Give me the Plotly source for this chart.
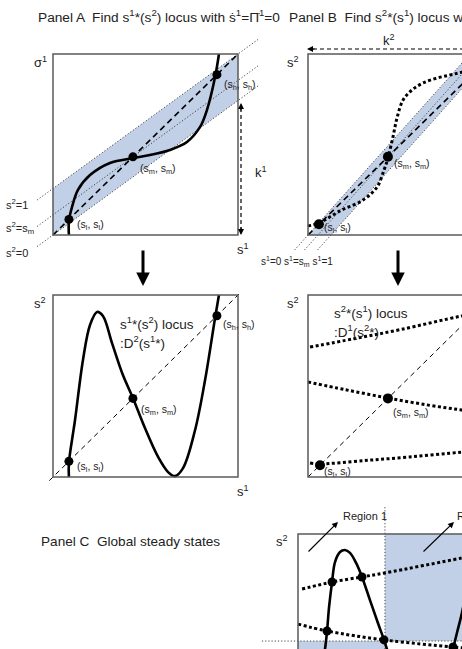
import plotly.graph_objects as go

# ---------------- data (unit coordinates inside each panel box) ----------------
# Panel A : s1 (horizontal) vs sigma1 (vertical)
A_levels = [0.086, 0.432, 0.886]            # s_l, s_m, s_h
A_band_a = 0.743                              # sigma1 = a*s1 + (1-a)*s2
A_band_s2 = [0.0, 0.432, 1.0]                 # s2 = 0, s_m, 1
A_curve_s1 = [0.086, 0.086, 0.103, 0.135, 0.200, 0.308, 0.432, 0.524, 0.632, 0.724, 0.795, 0.832, 0.876, 0.897]
A_curve_sg = [0.000, 0.077, 0.155, 0.249, 0.331, 0.398, 0.425, 0.442, 0.470, 0.514, 0.597, 0.690, 0.873, 1.000]

# Panel B : sigma2 (horizontal) vs s2 (vertical)
B_levels = [0.059, 0.432]
B_band_b = 0.876                              # u = b*v + (1-b)*s1
B_band_s1 = [0.0, 0.432, 1.0]
B_curve_u = [0.000, 0.059, 0.173, 0.297, 0.373, 0.411, 0.432, 0.459, 0.481, 0.514, 0.562, 0.622, 0.697, 0.768, 0.832, 0.95]
B_curve_v = [0.050, 0.066, 0.133, 0.193, 0.265, 0.359, 0.425, 0.541, 0.646, 0.746, 0.801, 0.840, 0.867, 0.884, 0.900, 0.93]

# Panel A2 : s1*(s2) locus
A2_curve_x = [0.086, 0.086, 0.119, 0.162, 0.200, 0.238, 0.270, 0.319, 0.378, 0.432, 0.497, 0.568, 0.622, 0.659, 0.703, 0.768, 0.822, 0.876, 0.897]
A2_curve_y = [0.000, 0.077, 0.313, 0.643, 0.835, 0.907, 0.885, 0.736, 0.560, 0.434, 0.269, 0.110, 0.027, 0.005, 0.049, 0.258, 0.533, 0.874, 1.000]
A2_levels = [0.086, 0.432, 0.886]

# Panel B2 : s2*(s1) locus (three branches)
B2_top_x = [0.011, 0.250, 0.500, 0.832, 1.0]
B2_top_y = [0.714, 0.760, 0.810, 0.885, 0.915]
B2_mid_x = [0.000, 0.200, 0.432, 0.650, 0.832, 1.0]
B2_mid_y = [0.522, 0.480, 0.434, 0.395, 0.368, 0.345]
B2_bot_x = [0.011, 0.065, 0.300, 0.550, 0.832, 1.0]
B2_bot_y = [0.077, 0.072, 0.090, 0.110, 0.137, 0.150]
B2_levels = [0.065, 0.432]

# Panel C : global steady states
C_curve1_x = [0.124, 0.146, 0.157, 0.168, 0.184, 0.200, 0.227, 0.254, 0.281, 0.314, 0.346, 0.389, 0.432, 0.465, 0.486, 0.524]
C_curve1_y = [0.250, 0.368, 0.467, 0.599, 0.736, 0.846, 0.901, 0.912, 0.896, 0.841, 0.764, 0.637, 0.511, 0.418, 0.352, 0.253]
C_curve2_x = [0.811, 0.838, 0.859, 0.886, 0.930]
C_curve2_y = [0.253, 0.368, 0.456, 0.566, 0.800]
C_top_x = [0.022, 0.184, 0.346, 0.470, 0.886, 1.0]
C_top_y = [0.698, 0.736, 0.764, 0.786, 0.868, 0.890]
C_mid_x = [0.000, 0.157, 0.465, 0.838, 1.0]
C_mid_y = [0.505, 0.467, 0.418, 0.379, 0.365]
C_pts_x = [0.184, 0.346, 0.157, 0.465, 0.838]
C_pts_y = [0.736, 0.764, 0.467, 0.418, 0.379]
C_split_u, C_split_v = 0.47, 0.412

# ---------------- layout geometry (pixels) ----------------
W, H = 462, 649
PANELS = {  # left, bottom, width, height
    "A": (53, 235, 185, 181),
    "B": (308, 235, 185, 181),
    "A2": (53, 477, 185, 182),
    "B2": (308, 477, 185, 182),
    "C": (298, 716, 185, 182),
}
BLUE = "rgb(193,208,230)"
BOX = "#5a5a5a"
FONT = "Liberation Sans, Arial, sans-serif"
TXT = "#222222"


def P(p, us, vs):
    x0, yb, w, h = PANELS[p]
    return [x0 + u * w for u in us], [yb - v * h for v in vs]


fig = go.Figure()


def line(p, us, vs, width=1.0, dash="solid", color="black", spline=False, fill=None, fillcolor=None):
    x, y = P(p, us, vs)
    fig.add_trace(go.Scatter(
        x=x, y=y, mode="lines", hoverinfo="skip", showlegend=False,
        line=dict(color=color, width=width, dash=dash, shape="spline" if spline else "linear", smoothing=1.0),
        fill=fill, fillcolor=fillcolor))


def pts(p, us, vs, size=9):
    x, y = P(p, us, vs)
    fig.add_trace(go.Scatter(x=x, y=y, mode="markers", hoverinfo="skip", showlegend=False,
                             marker=dict(color="black", size=size)))


THIN_DOT = "1.2px,2px"

# ---- Panel A ----
a = A_band_a
line("A", [0, 1, 1, 0, 0], [0, a, 1, 1 - a, 0], width=0, fill="toself", fillcolor=BLUE)
for c in A_band_s2:
    us = [-0.086, 1.11]
    line("A", us, [a * u + (1 - a) * c for u in us], width=0.9, dash=THIN_DOT, color="#333")
line("A", [0, 1], [0, 1], width=1.6, dash="6px,4px")
line("A", A_curve_s1, A_curve_sg, width=2.6, spline=True)
pts("A", A_levels, A_levels)

# ---- Panel B ----
b = B_band_b
line("B", [0, 1 - b, 1, b, 0], [0, 0, 1, 1, 0], width=0, fill="toself", fillcolor=BLUE)
for c in B_band_s1:
    vs = [-0.083, 1.1]
    line("B", [b * v + (1 - b) * c for v in vs], vs, width=0.9, dash=THIN_DOT, color="#333")
line("B", [0, 1], [0, 1], width=1.6, dash="6px,4px")
line("B", B_curve_u, B_curve_v, width=3, dash="3px,2.5px", spline=True)
pts("B", B_levels, B_levels, size=10)

# ---- Panel A2 ----
line("A2", [-0.02, 1.02], [-0.02, 1.02], width=1, dash="5px,4px")
line("A2", A2_curve_x, A2_curve_y, width=2.6, spline=True)
pts("A2", A2_levels, A2_levels)

# ---- Panel B2 ----
line("B2", [0, 1], [0, 1], width=1, dash="5px,4px")
for xs, ys in [(B2_top_x, B2_top_y), (B2_mid_x, B2_mid_y), (B2_bot_x, B2_bot_y)]:
    line("B2", xs, ys, width=3, dash="3px,2.5px", spline=True)
pts("B2", B2_levels, B2_levels, size=10)

# ---- Panel C ----
u, v = C_split_u, C_split_v
line("C", [u, 1, 1, u, u], [v, v, 1, 1, v], width=0, fill="toself", fillcolor=BLUE)
line("C", [0, u, u, 0, 0], [0, 0, v, v, 0], width=0, fill="toself", fillcolor=BLUE)
line("C", [u, u], [1.148, 0.2], width=0.9, dash=THIN_DOT, color="#333")
line("C", [-0.195, 1.0], [v, v], width=0.9, dash=THIN_DOT, color="#333")
line("C", C_top_x, C_top_y, width=3, dash="3px,2.5px", spline=True)
line("C", C_mid_x, C_mid_y, width=3, dash="3px,2.5px", spline=True)
line("C", C_curve1_x, C_curve1_y, width=2.6, spline=True)
line("C", C_curve2_x, C_curve2_y, width=2.6, spline=True)
pts("C", C_pts_x, C_pts_y, size=9)

# ---- panel boxes ----
shapes = []
for key, (x0, yb, w, h) in PANELS.items():
    shapes.append(dict(type="rect", xref="x", yref="y", x0=x0, x1=x0 + w, y0=yb - h, y1=yb,
                       line=dict(color=BOX, width=1.5), layer="above"))
# dashed k arrows
shapes.append(dict(type="line", xref="x", yref="y", x0=241, x1=241, y0=108, y1=229,
                   line=dict(color="black", width=1.2, dash="4px,3px")))
shapes.append(dict(type="line", xref="x", yref="y", x0=313, x1=470, y0=49, y1=49,
                   line=dict(color="black", width=1.2, dash="4px,3px")))

ann = []


def text(x, y, t, size=12, anchor="left"):
    ann.append(dict(x=x, y=y, xref="x", yref="y", text=t, showarrow=False, xanchor=anchor, yanchor="middle",
                    font=dict(family=FONT, size=size, color=TXT)))


def arrow(x, y, ax, ay, width=1.2, head=2, size=1.0):
    ann.append(dict(x=x, y=y, ax=ax, ay=ay, xref="x", yref="y", axref="x", ayref="y", text="",
                    showarrow=True, arrowhead=head, arrowwidth=width, arrowsize=size, arrowcolor="black"))


text(36, 16, "Panel A  Find s<sup>1</sup>*(s<sup>2</sup>) locus with s\u0307<sup>1</sup>=\u03A0\u0307<sup>1</sup>=0", 13.7)
text(287, 16, "Panel B  Find s<sup>2</sup>*(s<sup>1</sup>) locus with s\u0307<sup>2</sup>=\u03A0\u0307<sup>2</sup>=0", 13.7)
text(40, 62, "\u03c3<sup>1</sup>", 13, "center")
text(293, 62, "s<sup>2</sup>", 13, "center")
text(4, 204, "s<sup>2</sup>=1", 11)
text(4, 228, "s<sup>2</sup>=s<sub>m</sub>", 11)
text(4, 252, "s<sup>2</sup>=0", 11)
text(243, 249, "s<sup>1</sup>", 13, "center")
text(253, 172, "k<sup>1</sup>", 13)
text(389, 40, "k<sup>2</sup>", 13, "center")
text(259, 261, "s<sup>1</sup>=0 s<sup>1</sup>=s<sub>m</sub> s<sup>1</sup>=1", 10)
text(222, 85, "(s<sub>h</sub>, s<sub>h</sub>)", 10.5)
text(138, 169, "(s<sub>m</sub>, s<sub>m</sub>)", 10.5)
text(75, 225, "(s<sub>l</sub>, s<sub>l</sub>)", 10.5)
text(392, 164, "(s<sub>m</sub>, s<sub>m</sub>)", 10.5)
text(322, 228, "(s<sub>l</sub>, s<sub>l</sub>)", 10.5)

text(40, 303, "s<sup>2</sup>", 13, "center")
text(293, 303, "s<sup>2</sup>", 13, "center")
text(243, 491, "s<sup>1</sup>", 13, "center")
text(118, 323, "s<sup>1</sup>*(s<sup>2</sup>) locus", 13.5)
text(118, 342, ":D<sup>2</sup>(s<sup>1</sup>*)", 13.5)
text(332, 312, "s<sup>2</sup>*(s<sup>1</sup>) locus", 13.5)
text(332, 331, ":D<sup>1</sup>(s<sup>2</sup>*)", 13.5)
text(221, 325, "(s<sub>h</sub>, s<sub>h</sub>)", 10.5)
text(139, 410, "(s<sub>m</sub>, s<sub>m</sub>)", 10.5)
text(75, 467, "(s<sub>l</sub>, s<sub>l</sub>)", 10.5)
text(391, 413, "(s<sub>m</sub>, s<sub>m</sub>)", 10.5)
text(322, 472, "(s<sub>l</sub>, s<sub>l</sub>)", 10.5)

text(39, 541, "Panel C  Global steady states", 13.6)
text(282, 541, "s<sup>2</sup>", 13, "center")
text(341, 516, "Region 1", 11)
text(455, 516, "Region 2", 11)

# arrows
arrow(241, 103, 241, 112, width=1.2)
arrow(241, 235, 241, 226, width=1.2)
arrow(307, 49, 316, 49, width=1.2)
arrow(143, 286, 143, 249, width=3, head=2, size=0.9)
arrow(398, 286, 398, 249, width=3, head=2, size=0.9)
arrow(338, 522, 307, 553, width=1.2)
arrow(454, 522, 422, 553, width=1.2)

fig.update_layout(
    width=W, height=H, margin=dict(l=0, r=0, t=0, b=0),
    paper_bgcolor="white", plot_bgcolor="white",
    xaxis=dict(range=[0, W], visible=False, fixedrange=True),
    yaxis=dict(range=[H, 0], visible=False, fixedrange=True),
    shapes=shapes, annotations=ann, showlegend=False,
)
fig.write_html("out.html")
